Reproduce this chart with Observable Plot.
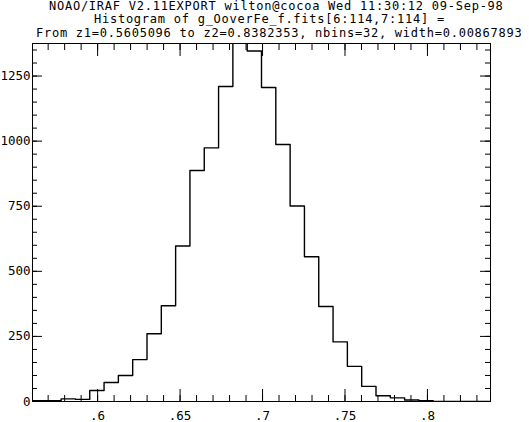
<!DOCTYPE html>
<html><head><meta charset="utf-8">
<script src="https://cdn.jsdelivr.net/npm/d3@7"></script>
<script src="https://cdn.jsdelivr.net/npm/@observablehq/plot@0.6"></script>
<style>
body{margin:0;background:#fff;}
#title{position:relative;width:529px;height:40px;font-family:"DejaVu Sans Mono",monospace;font-size:12px;letter-spacing:0.75px;color:#000;}
#title div{position:absolute;white-space:pre;line-height:13px;}
#chart svg{display:block;}
</style></head><body>
<div id="title"></div>
<div id="chart"></div>
<script>
const titleLines = [
  "NOAO/IRAF V2.11EXPORT wilton@cocoa Wed 11:30:12 09-Sep-98",
  "Histogram of g_OoverFe_f.fits[6:114,7:114] =",
  "From z1=0.5605096 to z2=0.8382353, nbins=32, width=0.00867893"
];
const z1 = 0.5605096, z2 = 0.8382353, nbins = 32, binWidth = 0.00867893;
const counts = [3, 3, 10, 8, 42, 73, 100, 161, 260, 368, 597, 887, 974, 1210, 1400, 1346,
                1206, 987, 751, 556, 365, 229, 135, 58, 22, 14, 6, 3, 0, 0, 0, 0];
const xMajor = [0.6, 0.65, 0.7, 0.75, 0.8];
const xMinor = [0.57,0.58,0.59,0.60,0.61,0.62,0.63,0.64,0.65,0.66,0.67,0.68,0.69,0.70,
                0.71,0.72,0.73,0.74,0.75,0.76,0.77,0.78,0.79,0.80,0.81,0.82,0.83];
const yMajor = [0, 250, 500, 750, 1000, 1250];
const yMinor = [0,50,100,150,200,250,300,350,400,450,500,550,600,650,700,750,800,850,
                900,950,1000,1050,1100,1150,1200,1250,1300,1350];
const yTop = 1375;

// title
const tPos = [[49, 0], [94, 12.5], [36, 26.5]];
const tEl = document.getElementById("title");
titleLines.forEach((t, i) => {
  const d = document.createElement("div");
  d.textContent = t;
  d.style.left = tPos[i][0] + "px";
  d.style.top = tPos[i][1] + "px";
  tEl.appendChild(d);
});

const edges = d3.range(nbins + 1).map(i => z1 + i * binWidth);
const steps = edges.map((x, i) => ({x, y: counts[Math.min(i, nbins - 1)]}));
const fmtX = d => String(d).replace(/^0\./, ".");

const plot = Plot.plot({
  width: 529, height: 382,
  marginTop: 3, marginBottom: 21, marginLeft: 32, marginRight: 39,
  x: {domain: [z1, z2]},
  y: {domain: [0, yTop]},
  style: {fontFamily: "DejaVu Sans Mono", fontSize: "12.5px", background: "#fff", color: "#000"},
  marks: [
    Plot.line(steps, {x: "x", y: "y", curve: "step-after", stroke: "#000", strokeWidth: 1.4, clip: true}),
    Plot.axisX(xMinor, {anchor: "bottom", tickSize: -6, fill: "none"}),
    Plot.axisX(xMajor, {anchor: "bottom", tickSize: -12, fill: "none"}),
    Plot.axisX(xMinor, {anchor: "top", tickSize: -6, fill: "none"}),
    Plot.axisX(xMajor, {anchor: "top", tickSize: -12, fill: "none"}),
    Plot.axisX(xMajor, {anchor: "bottom", tickSize: 0, tickPadding: 10, tickFormat: fmtX, label: null}),
    Plot.axisY(yMinor, {anchor: "left", tickSize: -5, fill: "none"}),
    Plot.axisY(yMajor, {anchor: "left", tickSize: -10, fill: "none"}),
    Plot.axisY(yMinor, {anchor: "right", tickSize: -6, fill: "none"}),
    Plot.axisY(yMajor, {anchor: "right", tickSize: -11, fill: "none"}),
    Plot.axisY(yMajor, {anchor: "left", tickSize: 0, tickPadding: 2, tickFormat: d => String(d), label: null}),
    Plot.frame({stroke: "#000"})
  ]
});
document.getElementById("chart").appendChild(plot);
</script>
</body></html>
